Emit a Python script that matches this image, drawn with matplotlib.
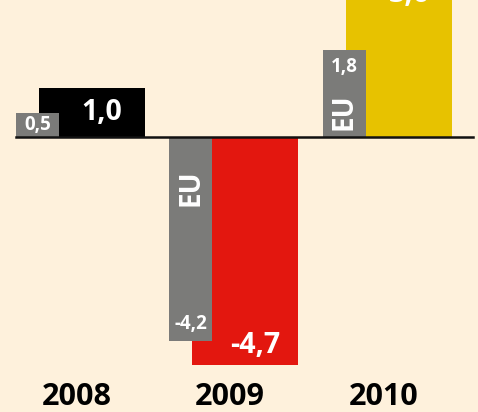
import numpy as np
import matplotlib
matplotlib.use("Agg")
import matplotlib.pyplot as plt
import matplotlib.transforms as mtransforms

# GDP growth, Germany vs EU
years = ["2008", "2009", "2010"]
germany = [1.0, -4.7, 3.6]
eu = [0.5, -4.2, 1.8]
germany_colors = ["#000000", "#E3170F", "#E7C200"]

BG = "#FEF1DC"
GREY = "#7B7B79"

plt.rcParams['font.family'] = ['Open Sans', 'DejaVu Sans']

def fmt(v):
    return f"{v:.1f}".replace(".", ",")

fig = plt.figure(figsize=(4.78, 4.12), dpi=100, facecolor=BG)
ax = fig.add_axes([0, 0, 1, 1])
ax.set_facecolor(BG)

x = np.arange(len(years))
w_de, w_eu, off_eu = 0.69, 0.28, 0.355

ax.bar(x, germany, width=w_de, color=germany_colors, zorder=2)
ax.bar(x - off_eu, eu, width=w_eu, color=GREY, zorder=3)

# zero line
ax.axhline(0, xmin=16 / 478, xmax=473 / 478, color="#111111", lw=1.8, zorder=4)

ax.set_xlim(-0.599, 2.515)
ax.set_ylim(-5.658, 2.819)
ax.axis("off")

# germany values, centred in the part of the bar the EU bar leaves free
for xi, v in zip(x, germany):
    y = v - 0.5 if v > 0 else v + 0.42
    y = min(y, 2.93)
    left = xi - off_eu + w_eu / 2
    right = xi + w_de / 2
    ax.text((left + right) / 2, y, fmt(v), color="white", fontsize=20.5,
            fontweight="bold", ha="center", va="center", zorder=5)

# eu values + "EU" tag
for xi, v in zip(x, eu):
    s = 1 if v > 0 else -1
    y = v / 2 if abs(v) < 1 else v - s * 0.35
    ax.text(xi - off_eu, y, fmt(v), color="white", fontsize=13.5,
            fontweight="bold", ha="center", va="center", zorder=5)
    if abs(v) >= 1:
        ty = -1.05 if v < 0 else 0.52
        ax.text(xi - off_eu, ty, "EU", color="white", fontsize=20,
                fontweight="bold", rotation=90, ha="center", va="center", zorder=5)

trans = mtransforms.blended_transform_factory(ax.transData, ax.transAxes)
for xi, yr in zip(x, years):
    ax.text(xi - 0.1, 0.036, yr, transform=trans, fontsize=22,
            fontweight="bold", color="#000000", ha="center", va="center")

fig.savefig("out.png", dpi=100, facecolor=BG)
